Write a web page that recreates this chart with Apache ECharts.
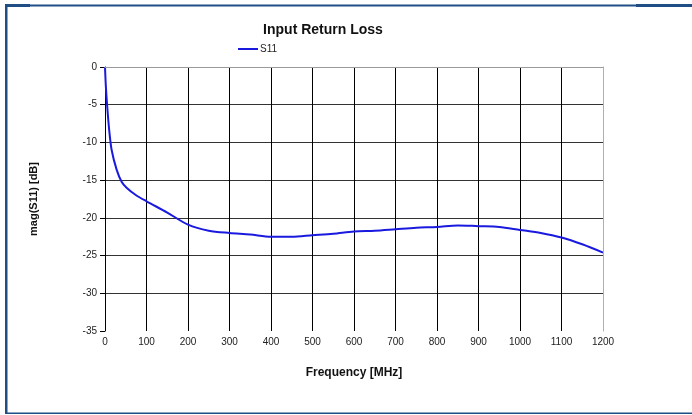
<!DOCTYPE html>
<html><head><meta charset="utf-8">
<script src="https://cdn.jsdelivr.net/npm/echarts@6/dist/echarts.min.js"></script>
<style>html,body{margin:0;padding:0;background:#fff}#c{width:692px;height:415px}</style>
</head><body><div id="c"></div>
<script>
var freq = [0,2,5,10,16,28,40,52,75,100,150,200,250,300,350,400,450,500,550,600,650,700,750,800,850,900,950,1000,1050,1100,1150,1200];
var s11  = [0,-2.5,-5,-8.3,-11,-13.6,-15.2,-16,-17,-17.8,-19.3,-20.9,-21.7,-22.0,-22.2,-22.5,-22.5,-22.3,-22.1,-21.8,-21.7,-21.5,-21.3,-21.2,-21.0,-21.1,-21.2,-21.6,-22.0,-22.6,-23.5,-24.6];
var xTicks = [0,100,200,300,400,500,600,700,800,900,1000,1100,1200];
var yTicks = [-35,-30,-25,-20,-15,-10,-5,0];

var chart = echarts.init(document.getElementById('c'));
var font = '"Liberation Sans", Arial, sans-serif';
chart.setOption({
  animation: false,
  backgroundColor: '#fff',
  title: {
    text: 'Input Return Loss', left: 318, top: 18, textAlign: 'center',
    textStyle: {fontFamily: font, fontSize: 14, fontWeight: 'bold', color: '#111'}
  },
  legend: {
    data: ['S11'], left: 233, top: 39, itemWidth: 20, itemHeight: 2, itemGap: 2,
    icon: 'rect',
    textStyle: {fontFamily: font, fontSize: 10, color: '#222', padding: [0,0,0,-3]}
  },
  grid: {left: 105, right: 89, top: 67, bottom: 84},
  xAxis: [{
    type: 'value', min: xTicks[0], max: xTicks[xTicks.length-1], interval: 100,
    name: 'Frequency [MHz]', nameLocation: 'middle', nameGap: 36,
    nameTextStyle: {fontFamily: font, fontSize: 12, fontWeight: 'bold', color: '#111'},
    axisLine: {show: true, lineStyle: {color: '#000', width: 1}},
    axisTick: {show: true, length: 4, lineStyle: {color: '#000'}},
    axisLabel: {fontFamily: font, fontSize: 10, color: '#222', margin: 6, formatter: function(v){ return String(v); }},
    splitLine: {show: true, showMaxLine: false, showMinLine: false, lineStyle: {color: '#000', width: 1}}
  }, {
    type: 'value', position: 'top', min: xTicks[0], max: xTicks[xTicks.length-1], interval: 100, z: 10,
    axisLine: {show: true, onZero: false, lineStyle: {color: '#9a9a9a', width: 1}},
    axisTick: {show: false}, axisLabel: {show: false}, splitLine: {show: false}
  }],
  yAxis: [{
    type: 'value', min: yTicks[0], max: yTicks[yTicks.length-1], interval: 5,
    name: 'mag(S11) [dB]', nameLocation: 'middle', nameGap: 66, nameRotate: 90,
    nameTextStyle: {fontFamily: font, fontSize: 11, fontWeight: 'bold', color: '#111'},
    axisLine: {show: true, lineStyle: {color: '#000', width: 1}},
    axisTick: {show: true, length: 5, lineStyle: {color: '#000'}},
    axisLabel: {fontFamily: font, fontSize: 10, color: '#222', margin: 8},
    splitLine: {show: true, showMaxLine: false, showMinLine: false, lineStyle: {color: '#333', width: 1}}
  }, {
    type: 'value', position: 'right', min: yTicks[0], max: yTicks[yTicks.length-1], interval: 5, z: 10,
    axisLine: {show: true, onZero: false, lineStyle: {color: '#b0b0b0', width: 1}},
    axisTick: {show: false}, axisLabel: {show: false}, splitLine: {show: false}
  }],
  series: [{
    name: 'S11', type: 'line', showSymbol: false, smooth: 0.3,
    data: freq.map(function(f,i){ return [f, s11[i]]; }),
    lineStyle: {color: '#1a1adf', width: 2},
    itemStyle: {color: '#1a1adf'}
  }],
  graphic: [
    {type: 'rect', shape: {x: 5, y: 4, width: 2.5, height: 410}, style: {fill: '#1f4e85'}, silent: true},
    {type: 'rect', shape: {x: 5, y: 4, width: 25, height: 3}, style: {fill: '#1f4e85'}, silent: true},
    {type: 'rect', shape: {x: 30, y: 4.5, width: 606, height: 2}, style: {fill: '#1f4e85'}, silent: true},
    {type: 'rect', shape: {x: 636, y: 4, width: 56, height: 3}, style: {fill: '#1f4e85'}, silent: true},
    {type: 'rect', shape: {x: 5, y: 412.5, width: 687, height: 1.5}, style: {fill: '#1f4e85'}, silent: true}
  ]
});
</script></body></html>
